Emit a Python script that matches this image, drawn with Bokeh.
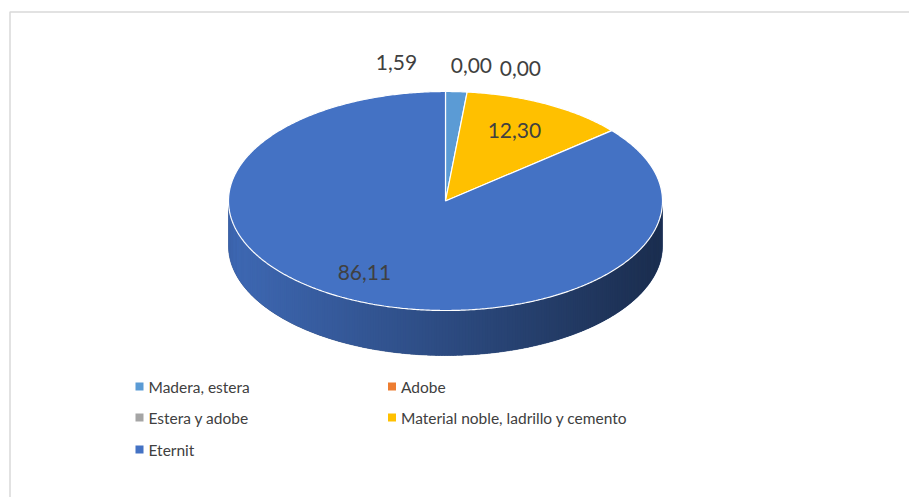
import numpy as np
from bokeh.plotting import figure
from bokeh.models import Range1d
from bokeh.core.properties import value
from bokeh.embed import file_html
from bokeh.resources import INLINE

# ---- data ----
categories = ["Madera, estera", "Adobe", "Estera y adobe",
              "Material noble, ladrillo y cemento", "Eternit"]
values = [1.59, 0.00, 0.00, 12.30, 86.11]
labels = ["1,59", "0,00", "0,00", "12,30", "86,11"]
colors = ["#5B9BD5", "#ED7D31", "#A5A5A5", "#FFC000", "#4472C4"]

# ---- geometry / style ----
W, H = 909, 497
cx, cy = 445.0, 200.5      # centre of top face (px)
a, b = 217.0, 109.5        # semi-axes of top face
depth = 45.0               # thickness of the pie
FONT = "Lato"

p = figure(width=W, height=H, x_range=Range1d(0, W), y_range=Range1d(H, 0),
           output_backend="svg", toolbar_location=None, min_border=0,
           background_fill_color="white", border_fill_color="white")
p.axis.visible = False
p.grid.visible = False
p.outline_line_color = None

# chart area border
p.quad(left=[9.5], right=[W + 20], top=[11.5], bottom=[H + 20],
       fill_color=None, line_color="#D9D9D9", line_width=1.5)

def pt(theta_deg, r=1.0, dz=0.0):
    t = np.radians(theta_deg)
    return cx + a * r * np.sin(t), cy - b * r * np.cos(t) + dz

def hex2rgb(h):
    h = h.lstrip("#")
    return tuple(int(h[i:i + 2], 16) for i in (0, 2, 4))

def shade(h, k):
    r, g, bb = hex2rgb(h)
    return "#%02x%02x%02x" % (int(r * k), int(g * k), int(bb * k))

total = sum(values)
ang = np.concatenate([[0.0], np.cumsum(values) / total * 360.0])

# ---- side (front half, angles 90..270) ----
bx, by, bc = [], [], []
sx, sy, sc = [], [], []
step = 0.75
for i, col in enumerate(colors):
    lo, hi = max(ang[i], 90.0), min(ang[i + 1], 270.0)
    if hi <= lo:
        continue
    # base under-layer for the whole side of this slice
    ts = np.linspace(lo, hi, 200)
    xt, yt = pt(ts)
    bx.append(list(xt) + list(xt[::-1]))
    by.append(list(yt) + list((yt + depth)[::-1]))
    bc.append(shade(col, 0.6))
    n = max(2, int((hi - lo) / step))
    ts = np.linspace(lo, hi, n + 1)
    for t0, t1 in zip(ts[:-1], ts[1:]):
        t1e = min(t1 + step * 0.6, hi)
        tt = np.linspace(t0, t1e, 4)
        xs, ys = pt(tt)
        f = ((xs[0] + xs[-1]) / 2 - (cx - a)) / (2 * a)
        k = 0.92 - 0.52 * f
        sx.append(list(xs) + list(xs[::-1]))
        sy.append(list(ys) + list((ys + depth)[::-1]))
        sc.append(shade(col, k))
p.patches(bx, by, fill_color=bc, line_color=bc, line_width=0.5)
p.patches(sx, sy, fill_color=sc, line_color=None)

# ---- top face wedges ----
tx, ty, tc = [], [], []
for i, col in enumerate(colors):
    if values[i] <= 0:
        continue
    ts = np.linspace(ang[i], ang[i + 1], max(3, int((ang[i + 1] - ang[i]) / 0.5)))
    xs, ys = pt(ts)
    tx.append([cx] + list(xs)); ty.append([cy] + list(ys)); tc.append(col)
p.patches(tx, ty, fill_color=tc, line_color="white", line_width=1.2)

# ---- data labels ----
mid = (ang[:-1] + ang[1:]) / 2
radius = [1.15, 1.15, 1.15, 0.65, 0.65]
x_off = [-61.5, 1, 50, 3, -21.5]
y_off = [-12.5, -10, -7, -8, 6.5]
lx, ly = [], []
for m, r, dx, dy in zip(mid, radius, x_off, y_off):
    x, y = pt(m, r)
    lx.append(x + dx); ly.append(y + dy)
p.text(lx, ly, text=labels, text_font=value(FONT), text_font_size="21px",
       text_color="#404040", text_align="center", text_baseline="middle")

# ---- legend ----
col_x = [139, 391.5]
row_y = [386, 417, 449]
gx, gy = [], []
for i in range(len(categories)):
    gx.append(col_x[i % 2]); gy.append(row_y[i // 2])
p.scatter(gx, gy, marker="square", size=8, fill_color=colors, line_color=None)
p.text([x + 9 for x in gx], gy, text=categories, text_font=value(FONT),
       text_font_size="15.5px", text_color="#404040", text_align="left",
       text_baseline="middle")

open("out.html", "w").write(file_html(p, INLINE))
